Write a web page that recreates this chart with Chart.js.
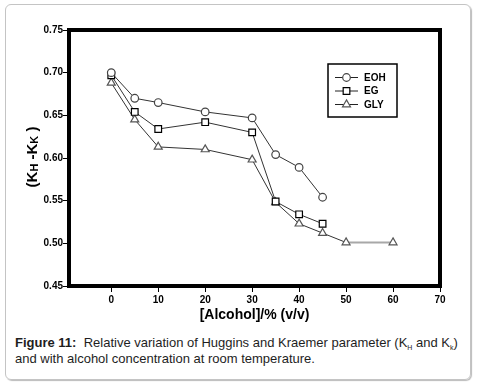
<!DOCTYPE html>
<html>
<head>
<meta charset="utf-8">
<script src="https://cdn.jsdelivr.net/npm/chart.js@4/dist/chart.umd.min.js"></script>
<style>
  body { margin: 0; background: #fff; font-family: "Liberation Sans", Arial, sans-serif; }
  #frame { position: absolute; left: 5px; top: 4px; width: 464px; height: 374px;
           border: 1px solid #c4c4c4; border-radius: 6px; box-shadow: 1px 1px 1px #bbb; }
  #chart { position: absolute; left: 0; top: 0; }
  #caption { position: absolute; left: 15px; top: 335px; width: 460px; white-space: nowrap;
             font-size: 13px; line-height: 16px; color: #1e1e1e; }
  #caption sub { font-size: 7px; line-height: 0; vertical-align: baseline; position: relative; top: 3px; }
</style>
</head>
<body>
<div id="frame"></div>
<canvas id="chart" width="479" height="330"></canvas>
<div id="caption"><b>Figure 11:</b>&nbsp; Relative variation of Huggins and Kraemer parameter (K<sub>H</sub> and K<sub>k</sub>)<br>and with alcohol concentration at room temperature.</div>
<script>
// values
const xTicks = [0, 10, 20, 30, 40, 50, 60, 70];
const yTicks = [0.45, 0.50, 0.55, 0.60, 0.65, 0.70, 0.75];

const xEOH = [0, 5, 10, 20, 30, 35, 40, 45];
const eoh  = [0.700, 0.670, 0.665, 0.654, 0.647, 0.604, 0.589, 0.554];

const xEG = [0, 5, 10, 20, 30, 35, 40, 45];
const eg  = [0.697, 0.654, 0.634, 0.642, 0.630, 0.549, 0.534, 0.523];

const xGLY = [0, 5, 10, 20, 30, 35, 40, 45, 50, 60];
const gly  = [0.688, 0.645, 0.613, 0.610, 0.598, 0.548, 0.523, 0.512, 0.501, 0.501];

const toXY = (xs, ys) => xs.map((x, i) => ({ x, y: ys[i] }));

const series = [
  { label: 'EOH', style: 'circle', radius: 3.8, stroke: '#444', data: toXY(xEOH, eoh) },
  { label: 'EG', style: 'rect', radius: 4.7, stroke: '#000', data: toXY(xEG, eg) },
  { label: 'GLY', style: 'triangle', radius: 4.6, stroke: '#555', data: toXY(xGLY, gly) },
];

function marker(ctx, style, r, x, y, stroke) {
  ctx.save();
  ctx.fillStyle = '#fff';
  ctx.strokeStyle = stroke;
  ctx.lineWidth = 1.2;
  ctx.beginPath();
  if (style === 'circle') {
    ctx.arc(x, y, r, 0, Math.PI * 2);
  } else if (style === 'rect') {
    const s = r * Math.SQRT1_2;
    ctx.rect(x - s, y - s, 2 * s, 2 * s);
  } else {
    const h = r * 1.5, w = r * Math.sqrt(3) / 2;
    ctx.moveTo(x, y - r);
    ctx.lineTo(x + w, y + h - r);
    ctx.lineTo(x - w, y + h - r);
    ctx.closePath();
  }
  ctx.fill();
  ctx.stroke();
  ctx.restore();
}

const framePlugin = {
  id: 'frame',
  afterDraw(chart) {
    const { ctx, chartArea: a } = chart;
    ctx.save();
    ctx.strokeStyle = '#000';
    ctx.lineWidth = 4;
    ctx.strokeRect(a.left, a.top, a.right - a.left, a.bottom - a.top);

    // legend box
    const lx = 328, ly = 64;
    ctx.lineWidth = 1.5;
    ctx.strokeRect(lx, ly, 69, 53);
    ctx.font = 'bold 10px "Liberation Sans", Arial, sans-serif';
    ctx.textBaseline = 'middle';
    ctx.fillStyle = '#000';
    series.forEach((s, i) => {
      const y = 77.5 + i * 13.5;
      ctx.strokeStyle = '#222';
      ctx.lineWidth = 1;
      ctx.beginPath();
      ctx.moveTo(335, y);
      ctx.lineTo(358, y);
      ctx.stroke();
      marker(ctx, s.style, s.radius, 346.5, y, s.stroke);
      ctx.fillText(s.label, 364, y + 0.5);
    });

    // y-axis title with subscripts
    const parts = [
      ['(K', 15, 0], ['H', 11, 1], [' -K', 15, 0], ['K', 11, 1], [' )', 15, 0],
    ];
    ctx.translate(31, 157);
    ctx.rotate(-Math.PI / 2);
    ctx.textBaseline = 'alphabetic';
    let total = 0;
    parts.forEach(p => {
      ctx.font = `bold ${p[1]}px "Liberation Sans", Arial, sans-serif`;
      total += ctx.measureText(p[0]).width;
    });
    let x = -total / 2;
    parts.forEach(p => {
      ctx.font = `bold ${p[1]}px "Liberation Sans", Arial, sans-serif`;
      ctx.fillText(p[0], x, 5.5 + p[2] * 1.5);
      x += ctx.measureText(p[0]).width;
    });
    ctx.restore();
  },
};

const tickFont = { family: '"Liberation Sans", Arial, sans-serif', size: 10, weight: 'bold' };

new Chart(document.getElementById('chart'), {
  type: 'line',
  data: {
    datasets: series.map(s => ({
      label: s.label,
      data: s.data,
      borderColor: '#333',
      borderWidth: 1,
      pointStyle: s.style,
      pointRadius: s.radius,
      pointBorderWidth: 1.2,
      pointBorderColor: s.stroke,
      pointBackgroundColor: '#fff',
      fill: false,
      tension: 0,
      segment: s.label === 'GLY'
        ? { borderColor: c => (c.p0.parsed.x >= 50 ? '#a8a8a8' : '#333'),
            borderWidth: c => (c.p0.parsed.x >= 50 ? 2 : 1) }
        : undefined,
    })),
  },
  options: {
    responsive: false,
    animation: false,
    layout: { padding: { left: 0, top: 30, right: 39, bottom: 0 } },
    plugins: { legend: { display: false }, tooltip: { enabled: false } },
    scales: {
      x: {
        type: 'linear',
        min: -9,
        max: 70,
        afterBuildTicks: sc => { sc.ticks = xTicks.map(v => ({ value: v })); },
        afterFit: sc => { sc.height = 44; },
        border: { display: false },
        grid: { drawOnChartArea: false, drawTicks: true, tickLength: 6, color: '#000' },
        ticks: { color: '#000', font: tickFont, padding: 2, maxRotation: 0 },
        title: {
          display: true,
          text: '[Alcohol]/% (v/v)',
          color: '#000',
          font: { family: '"Liberation Sans", Arial, sans-serif', size: 14, weight: 'bold' },
          padding: { top: 0, bottom: 6 },
        },
      },
      y: {
        min: 0.45,
        max: 0.75,
        afterBuildTicks: sc => { sc.ticks = yTicks.map(v => ({ value: v })); },
        afterFit: sc => { sc.width = 69; },
        border: { display: false },
        grid: { drawOnChartArea: false, drawTicks: true, tickLength: 6, color: '#000' },
        ticks: { color: '#000', font: tickFont, padding: 0, callback: v => v.toFixed(2) },
      },
    },
  },
  plugins: [framePlugin],
});
</script>
</body>
</html>
